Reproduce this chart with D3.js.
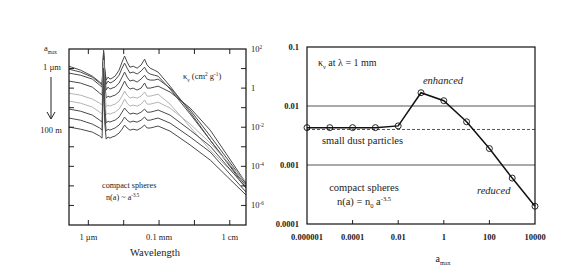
<!DOCTYPE html>
<html>
<head>
<meta charset="utf-8">
<script src="https://cdn.jsdelivr.net/npm/d3@7"></script>
<style>
  body { margin: 0; background: #fff; }
</style>
</head>
<body>
<svg id="chart" width="588" height="273" font-family="'Liberation Serif', 'DejaVu Serif', serif"></svg>
<script>
// left panel: opacity spectra, wavelength in micron, log10(kappa) per a_max
var wavelengthUm = [0.28, 0.6, 1.3, 2.1, 2.45, 2.7, 2.9, 3.2, 3.6, 4.1, 4.7, 5.7, 7.4, 9, 10.6, 12.5, 15, 18.5, 24, 31, 39, 46, 56, 73, 94, 205, 760, 2800, 29000];
var kappa1um   = [1.12, 0.92, 0.61, 0.31, 0.20, 1.94, 1.02, 0.41, 0.56, 0.46, 0.51, 0.61, 0.92, 1.33, 1.64, 1.33, 1.07, 1.12, 1.02, 1.18, 1.48, 1.18, 1.02, 0.92, 0.82, 0.10, -1.23, -2.66, -5.11];
var kappa10um  = [0.97, 0.82, 0.56, 0.26, 0.15, 1.89, 0.92, 0.20, 0.36, 0.26, 0.31, 0.41, 0.66, 1.02, 1.28, 1.02, 0.77, 0.82, 0.72, 0.87, 1.07, 0.82, 0.72, 0.66, 0.61, -0.05, -1.33, -2.66, -5.01];
var kappa100um = [0.77, 0.66, 0.46, 0.15, 0.05, 1.79, 0.72, -0.10, 0.05, -0.05, 0, 0.05, 0.26, 0.56, 0.82, 0.56, 0.36, 0.41, 0.31, 0.46, 0.66, 0.46, 0.41, 0.41, 0.46, 0, -1.12, -2.45, -4.91];
var kappa1mm   = [0.36, 0.26, 0.05, -0.26, -0.36, 1.64, 0.31, -0.51, -0.41, -0.46, -0.41, -0.36, -0.20, 0.10, 0.36, 0.10, -0.05, 0, -0.10, 0, 0.26, 0, 0, 0.05, 0.10, -0.20, -1.02, -2.15, -4.86];
var kappa1cm   = [-0.26, -0.36, -0.56, -0.77, -0.87, 1.43, -0.10, -0.97, -0.87, -0.92, -0.87, -0.82, -0.66, -0.41, -0.15, -0.36, -0.51, -0.46, -0.51, -0.41, -0.20, -0.41, -0.41, -0.36, -0.31, -0.82, -1.99, -3.17, -5.01];
var kappa10cm  = [-0.66, -0.77, -0.97, -1.23, -1.33, 1.23, -0.51, -1.38, -1.28, -1.33, -1.28, -1.23, -1.07, -0.82, -0.56, -0.77, -0.92, -0.87, -0.92, -0.82, -0.61, -0.82, -0.82, -0.77, -0.72, -1.02, -1.84, -2.81, -4.81];
var kappa1m    = [-1.07, -1.18, -1.38, -1.64, -1.74, 1.02, -0.92, -1.79, -1.69, -1.74, -1.69, -1.64, -1.48, -1.23, -1.02, -1.18, -1.33, -1.28, -1.33, -1.23, -1.07, -1.23, -1.23, -1.18, -1.12, -1.38, -2.15, -2.97, -5.11];
var kappa10m   = [-1.53, -1.64, -1.84, -2.04, -2.15, 0.82, -1.33, -2.20, -2.10, -2.15, -2.10, -2.04, -1.89, -1.69, -1.48, -1.64, -1.74, -1.69, -1.74, -1.64, -1.48, -1.64, -1.64, -1.58, -1.53, -1.79, -2.50, -3.27, -5.32];
var kappa100m  = [-1.99, -2.10, -2.25, -2.45, -2.56, 0.61, -1.74, -2.61, -2.50, -2.56, -2.50, -2.45, -2.30, -2.10, -1.89, -2.04, -2.15, -2.10, -2.15, -2.04, -1.89, -2.04, -2.04, -1.99, -1.94, -2.20, -2.91, -3.68, -5.47];
var spectra = [kappa1um, kappa10um, kappa100um, kappa1mm, kappa1cm, kappa10cm, kappa1m, kappa10m, kappa100m];
var greySpectra = [4, 5];   // the two lighter curves

var leftXTickValues = [1, 100, 10000];
var leftXTickLabels = ["1 \u00b5m", "0.1 mm", "1 cm"];
var leftYTickValues = [1e2, 1, 1e-2, 1e-4, 1e-6];
var leftYTickExp = ["2", "", "-2", "-4", "-6"];

// right panel: kappa at 1 mm versus a_max
var amax = [1e-6, 1e-5, 1e-4, 1e-3, 1e-2, 1e-1, 1, 10, 100, 1000, 10000];
var kappaAt1mm = [0.0043, 0.0043, 0.0043, 0.0043, 0.0046, 0.0168, 0.0123, 0.0054, 0.0019, 0.0006, 0.0002];
var smallDustLevel = 0.004;
var refLevels = [0.01, 0.001];
var rightXTickValues = [1e-6, 1e-4, 1e-2, 1, 100, 10000];
var rightXTickLabels = ["0.000001", "0.0001", "0.01", "1", "100", "10000"];
var rightYTickValues = [0.1, 0.01, 0.001, 0.0001];
var rightYTickLabels = ["0.1", "0.01", "0.001", "0.0001"];

var serif = "'Liberation Serif', 'DejaVu Serif', serif";
var svg = d3.select("#chart");

function richText(sel, x, y, parts, size, anchor, style) {
    var t = sel.append("text")
        .attr("x", x).attr("y", y)
        .attr("font-family", serif)
        .attr("fill", "#222")
        .attr("font-size", size)
        .attr("text-anchor", anchor || "start");
    if (style) t.attr("font-style", style);
    var shift = 0;
    parts.forEach(function (p) {
        var s = 0;
        if (p[1] == "sup") s = -size * 0.4;
        if (p[1] == "sub") s = size * 0.3;
        t.append("tspan")
            .attr("dy", s - shift)
            .attr("font-size", p[1] ? size * 0.62 : size)
            .text(p[0]);
        shift = s;
    });
    return t;
}

function label(x, y, txt, size, anchor) {
    return svg.append("text").attr("x", x).attr("y", y)
        .attr("font-family", serif).attr("fill", "#222")
        .attr("font-size", size).attr("text-anchor", anchor || "start").text(txt);
}

// ---------- left panel ----------
var L = {left: 69, right: 246, top: 49, bottom: 225};
var x1 = d3.scaleLog().domain([0.284, 28770]).range([L.left, L.right]);
var y1 = d3.scaleLog().domain([1e-7, 1e2]).range([L.bottom, L.top]);

svg.append("clipPath").attr("id", "clipL")
    .append("rect").attr("x", L.left).attr("y", L.top)
    .attr("width", L.right - L.left).attr("height", L.bottom - L.top);

var line1 = d3.line()
    .x(function (d, i) { return x1(wavelengthUm[i]); })
    .y(function (d) { return y1(Math.pow(10, d)); });

var gl = svg.append("g").attr("clip-path", "url(#clipL)");
spectra.forEach(function (s, i) {
    gl.append("path")
        .datum(s)
        .attr("fill", "none")
        .attr("stroke", greySpectra.indexOf(i) >= 0 ? "#b4b4b4" : "#4a4a4a")
        .attr("stroke-width", 1)
        .attr("stroke-linejoin", "round")
        .attr("d", line1);
});

// ticks (inside)
var xDecades = [1, 10, 100, 1000, 10000];
xDecades.forEach(function (v) {
    svg.append("line").attr("x1", x1(v)).attr("x2", x1(v)).attr("y1", L.top).attr("y2", L.top + 5).attr("stroke", "#222");
    svg.append("line").attr("x1", x1(v)).attr("x2", x1(v)).attr("y1", L.bottom).attr("y2", L.bottom - 5).attr("stroke", "#222");
});
var yDecades = d3.range(-6, 2).map(function (e) { return Math.pow(10, e); });
yDecades.forEach(function (v) {
    svg.append("line").attr("x1", L.left).attr("x2", L.left + 5).attr("y1", y1(v)).attr("y2", y1(v)).attr("stroke", "#222");
    svg.append("line").attr("x1", L.right).attr("x2", L.right - 5).attr("y1", y1(v)).attr("y2", y1(v)).attr("stroke", "#222");
});
svg.append("rect").attr("x", L.left).attr("y", L.top)
    .attr("width", L.right - L.left).attr("height", L.bottom - L.top)
    .attr("fill", "none").attr("stroke", "#111").attr("stroke-width", 1.2);

leftXTickValues.forEach(function (v, i) {
    label(x1(v), 240, leftXTickLabels[i], 8.5, "middle");
});
leftYTickValues.forEach(function (v, i) {
    if (leftYTickExp[i] == "") {
        richText(svg, 251, y1(v) + 3, [["1"]], 8.5);
    } else {
        richText(svg, 251, y1(v) + 3, [["10"], [leftYTickExp[i], "sup"]], 8.5);
    }
});
label(155, 256, "Wavelength", 10.5, "middle");

richText(svg, 183, 79, [["\u03ba"], ["\u03bd", "sub"], [" (cm"], ["2", "sup"], [" g"], ["-1", "sup"], [")"]], 8.5);
richText(svg, 102, 188, [["compact spheres"]], 8.2);
richText(svg, 106, 200, [["n(a) ~ a"], ["-3.5", "sup"]], 8.2);

richText(svg, 44, 51, [["a"], ["max", "sub"]], 8.5);
label(52, 70, "1 \u00b5m", 8.5, "middle");
label(51, 133, "100 m", 8.5, "middle");
svg.append("line").attr("x1", 51).attr("x2", 51).attr("y1", 77).attr("y2", 118).attr("stroke", "#222").attr("stroke-width", 1);
svg.append("path").attr("d", "M47,112 L51,119 L55,112").attr("fill", "none").attr("stroke", "#222").attr("stroke-width", 1);

// ---------- right panel ----------
var R = {left: 307, right: 535, top: 47, bottom: 224};
var x2 = d3.scaleLog().domain([1e-6, 1e4]).range([R.left, R.right]);
var y2 = d3.scaleLog().domain([1e-4, 0.1]).range([R.bottom, R.top]);

refLevels.forEach(function (v) {
    svg.append("line").attr("x1", R.left).attr("x2", R.right).attr("y1", y2(v)).attr("y2", y2(v))
        .attr("stroke", "#555").attr("stroke-width", 1);
});
svg.append("line").attr("x1", R.left).attr("x2", R.right)
    .attr("y1", y2(smallDustLevel)).attr("y2", y2(smallDustLevel))
    .attr("stroke", "#555").attr("stroke-width", 1).attr("stroke-dasharray", "3,2");

var line2 = d3.line()
    .x(function (d, i) { return x2(amax[i]); })
    .y(function (d) { return y2(d); });
svg.append("path").datum(kappaAt1mm)
    .attr("fill", "none").attr("stroke", "#111").attr("stroke-width", 1.5).attr("d", line2);
svg.selectAll("circle.pt").data(kappaAt1mm).enter().append("circle")
    .attr("class", "pt")
    .attr("cx", function (d, i) { return x2(amax[i]); })
    .attr("cy", function (d) { return y2(d); })
    .attr("r", 3)
    .attr("fill", "none").attr("stroke", "#111").attr("stroke-width", 0.9);

rightXTickValues.forEach(function (v, i) {
    if (i > 0 && i < rightXTickValues.length - 1) {
        svg.append("line").attr("x1", x2(v)).attr("x2", x2(v)).attr("y1", R.bottom).attr("y2", R.bottom - 4).attr("stroke", "#222");
    }
    label(x2(v), 240, rightXTickLabels[i], 8.5, "middle").attr("font-weight", "bold");
});
rightYTickValues.forEach(function (v, i) {
    label(299, y2(v) + 3, rightYTickLabels[i], 8.5, "end").attr("font-weight", "bold");
});
svg.append("rect").attr("x", R.left).attr("y", R.top)
    .attr("width", R.right - R.left).attr("height", R.bottom - R.top)
    .attr("fill", "none").attr("stroke", "#111").attr("stroke-width", 1.2);

richText(svg, 443, 262, [["a"], ["max", "sub"]], 10, "middle");
richText(svg, 318, 66, [["\u03ba"], ["\u03bd", "sub"], [" at \u03bb = 1 mm"]], 10);
label(443, 84, "enhanced", 10.5, "middle").attr("font-style", "italic");
label(322, 144, "small dust particles", 10.5);
label(364, 191, "compact spheres", 10.5, "middle");
richText(svg, 364, 205, [["n(a) = n"], ["0", "sub"], [" a"], ["-3.5", "sup"]], 10.5, "middle");
label(477, 194, "reduced", 10.5).attr("font-style", "italic");
</script>
</body>
</html>
